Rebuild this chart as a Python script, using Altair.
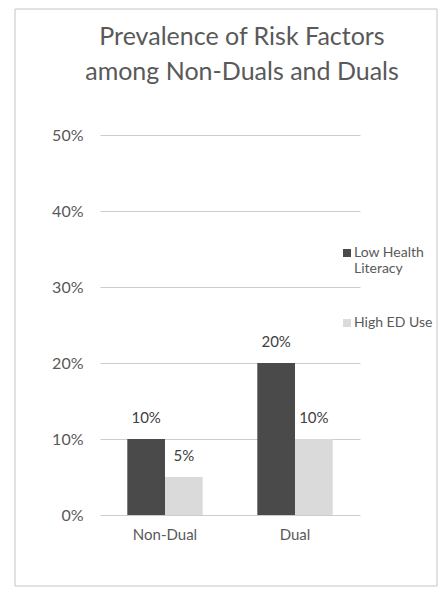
import altair as alt
import pandas as pd

categories = ["Non-Dual", "Dual"]
series = ["Low Health Literacy", "High ED Use"]
low_health = [0.10, 0.20]
high_ed = [0.05, 0.10]
y_ticks = [0, 0.1, 0.2, 0.3, 0.4, 0.5]

rows = []
for i, c in enumerate(categories):
    rows.append({"group": c, "series": series[0], "value": low_health[i]})
    rows.append({"group": c, "series": series[1], "value": high_ed[i]})
df = pd.DataFrame(rows)

FONT = "Lato"
GRAY = "#595959"

x_enc = alt.X("group:N", sort=categories,
              scale=alt.Scale(paddingInner=0.42, paddingOuter=0.21),
              axis=alt.Axis(title=None, labelAngle=0, ticks=False, domain=False,
                            labelPadding=12, labelFontSize=15, labelColor=GRAY,
                            labelFont=FONT))
xoff = alt.XOffset("series:N", sort=series, scale=alt.Scale(paddingInner=0, paddingOuter=0))

bars = alt.Chart(df).mark_bar().encode(
    x=x_enc,
    xOffset=xoff,
    y=alt.Y("value:Q", scale=alt.Scale(domain=[0, 0.5], nice=False),
            axis=alt.Axis(title=None, values=y_ticks, format=".0%", ticks=False,
                          domain=False, labelPadding=17, labelFontSize=16,
                          labelColor=GRAY, labelFont=FONT, gridColor="#cccccc",
                          gridWidth=1)),
    color=alt.Color("series:N", sort=series,
                    scale=alt.Scale(domain=series, range=["#4a4a4a", "#dadada"]),
                    legend=alt.Legend(title=None, orient="none", legendX=240, legendY=115,
                                      symbolType="M-1,-2 L1,-2 L1,0 L-1,0 Z",
                                      symbolSize=64, symbolStrokeWidth=0,
                                      labelBaseline="alphabetic",
                                      labelExpr="datum.label == 'Low Health Literacy' ? ['Low Health', 'Literacy'] : datum.label",
                                      labelFontSize=14, labelColor=GRAY, labelFont=FONT,
                                      labelOffset=0, rowPadding=40, labelLimit=200)),
)

labels = alt.Chart(df).mark_text(dy=-21, fontSize=15, font=FONT, color="#404040").encode(
    x=alt.X("group:N", sort=categories),
    xOffset=alt.XOffset("series:N", sort=series),
    y="value:Q",
    text=alt.Text("value:Q", format=".0%"),
)

border = alt.Chart(pd.DataFrame({"b": [1]})).mark_rect(
    fill=None, stroke="#c4c4c4", strokeWidth=1
).encode(
    x=alt.value(-85), x2=alt.value(337), y=alt.value(-126), y2=alt.value(451)
)

chart = alt.layer(bars, labels, border).properties(
    width=260,
    height=380,
    title=alt.TitleParams(
        text=["Prevalence of Risk Factors", "among Non-Duals and Duals"],
        fontSize=25, font=FONT, fontWeight="normal", color=GRAY,
        lineHeight=35, anchor="middle", dx=12, offset=-76, frame="group",
    ),
    autosize=alt.AutoSizeParams(type="none"),
    padding={"left": 92, "top": 127, "right": 78, "bottom": 75},
).configure(background="white").configure_view(stroke=None)

chart.save("out.html", embed_options={"renderer": "svg", "actions": False})
